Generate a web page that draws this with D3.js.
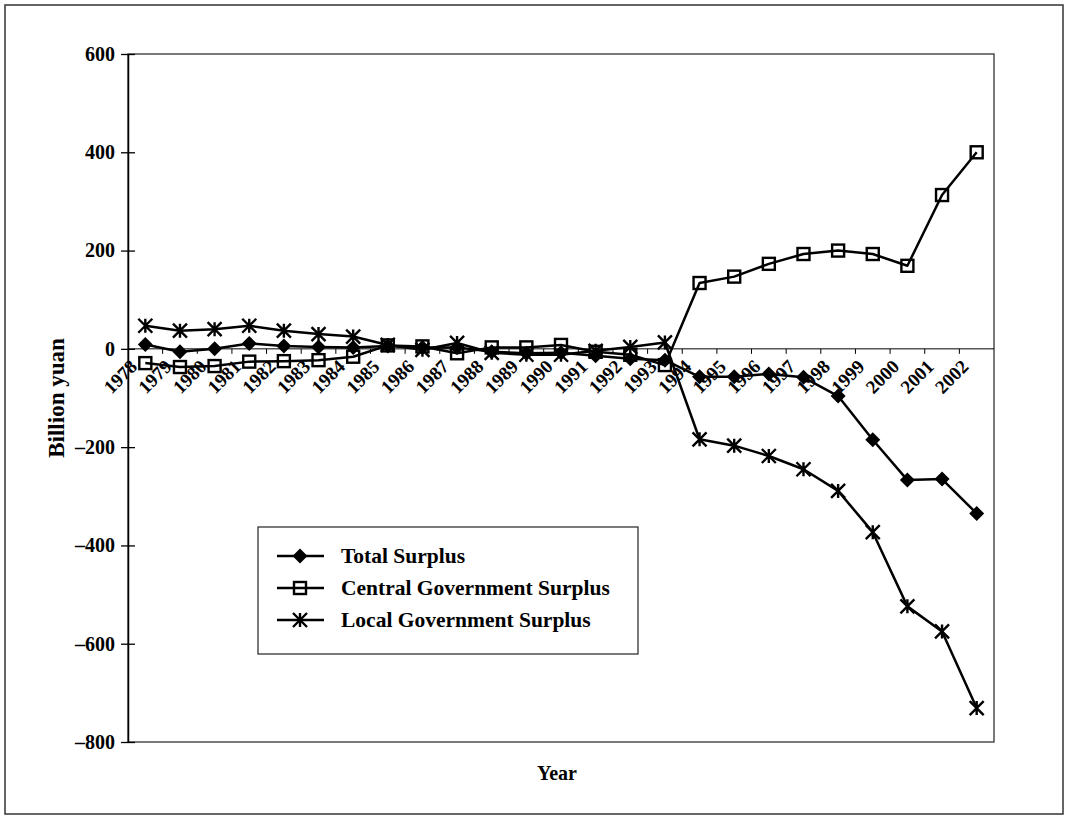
<!DOCTYPE html>
<html>
<head>
<meta charset="utf-8">
<script src="https://cdn.jsdelivr.net/npm/d3@7"></script>
<style>
  html, body { margin: 0; padding: 0; background: #fff; }
  svg { display: block; }
  text { font-family: "Liberation Serif", "Times New Roman", serif; font-weight: bold; fill: #000; }
</style>
</head>
<body>
<svg id="chart" width="1069" height="819"></svg>
<script>
const years = ["1978","1979","1980","1981","1982","1983","1984","1985","1986","1987","1988","1989","1990",
  "1991","1992","1993","1994","1995","1996","1997","1998","1999","2000","2001","2002"];
const totalSurplus   = [9, -6, 0, 11, 6, 4, 3, 6, 3, 3, -6, -9, -8, -14, -20, -23, -57, -57, -51, -58, -96, -185, -267, -265, -335];
const centralSurplus = [-29, -37, -35, -26, -25, -23, -16, 7, 5, -9, 3, 3, 8, -6, -12, -33, 134, 147, 173, 193, 200, 193, 169, 313, 400];
const localSurplus   = [47, 37, 40, 47, 37, 30, 25, 8, -2, 12, -8, -12, -12, -4, 4, 13, -184, -197, -218, -245, -289, -373, -524, -575, -731];
const yTicks = [600, 400, 200, 0, -200, -400, -600, -800];
const seriesNames = ["Total Surplus", "Central Government Surplus", "Local Government Surplus"];

const svg = d3.select("#chart");
const L = 128, R = 994, T = 54, B = 742;

// outer frame
svg.append("rect").attr("x", 5).attr("y", 5).attr("width", 1058).attr("height", 809)
  .attr("fill", "none").attr("stroke", "#333").attr("stroke-width", 1.5);

const x = d3.scaleBand().domain(years).range([L, R]).padding(0);
const y = d3.scaleLinear().domain([-800, 600]).range([B, T]);
const cx = d => x(d) + x.bandwidth() / 2;

// plot border
svg.append("rect").attr("x", L).attr("y", T).attr("width", R - L).attr("height", B - T)
  .attr("fill", "none").attr("stroke", "#333").attr("stroke-width", 1.3);

// y axis
const yAxis = d3.axisLeft(y).tickValues(yTicks).tickSizeInner(7).tickSizeOuter(0)
  .tickFormat(d => d < 0 ? "\u2013" + Math.abs(d) : d);
const gy = svg.append("g").attr("transform", `translate(${L},0)`).call(yAxis);
gy.select(".domain").attr("stroke", "#000").attr("stroke-width", 1.5);
gy.selectAll(".tick line").attr("stroke", "#000").attr("stroke-width", 1.3).attr("x2", 7).attr("x1", -7);
gy.selectAll(".tick text").attr("x", -13).style("font-size", "20px")
  .style("font-family", "'Liberation Serif', serif").style("font-weight", "bold");

// x axis at zero
const y0 = y(0);
const gx = svg.append("g").attr("transform", `translate(0,${y0})`);
gx.append("line").attr("x1", L).attr("x2", R).attr("y1", 0).attr("y2", 0).attr("stroke", "#000").attr("stroke-width", 1);
gx.selectAll("line.tk").data(years.slice(1)).join("line").attr("class", "tk")
  .attr("x1", d => x(d)).attr("x2", d => x(d)).attr("y1", 0).attr("y2", 5)
  .attr("stroke", "#000").attr("stroke-width", 1);
gx.selectAll("text.lbl").data(years).join("text").attr("class", "lbl")
  .attr("transform", d => `translate(${cx(d) - 7},19) rotate(-45)`)
  .attr("text-anchor", "end").style("font-size", "19px").text(d => d);

// lines
const line = d3.line().x((d, i) => cx(years[i])).y(d => y(d));
const allSeries = [totalSurplus, centralSurplus, localSurplus];
allSeries.forEach(s => {
  svg.append("path").datum(s).attr("d", line).attr("fill", "none")
    .attr("stroke", "#000").attr("stroke-width", 2.5).attr("stroke-linejoin", "round");
});

function drawMarker(g, kind, px, py) {
  if (kind === 0) {
    const r = 7.5;
    g.append("path").attr("d", `M${px},${py - r}L${px + r},${py}L${px},${py + r}L${px - r},${py}Z`).attr("fill", "#000");
  } else if (kind === 1) {
    const s = 12;
    g.append("rect").attr("x", px - s / 2).attr("y", py - s / 2).attr("width", s).attr("height", s)
      .attr("fill", "none").attr("stroke", "#000").attr("stroke-width", 2.4);
  } else {
    const r = 7;
    g.append("path").attr("d", `M${px - r},${py - r}L${px + r},${py + r}M${px - r},${py + r}L${px + r},${py - r}M${px},${py - r}L${px},${py + r}`)
      .attr("stroke", "#000").attr("stroke-width", 2.4).attr("fill", "none");
  }
}
const mg = svg.append("g");
allSeries.forEach((s, k) => s.forEach((v, i) => drawMarker(mg, k, cx(years[i]), y(v))));

// axis titles
svg.append("text").attr("transform", `translate(64,${(T + B) / 2}) rotate(-90)`)
  .attr("text-anchor", "middle").style("font-size", "23px").text("Billion yuan");
svg.append("text").attr("x", 557).attr("y", 780).attr("text-anchor", "middle")
  .style("font-size", "20px").text("Year");

// legend
const lg = svg.append("g");
lg.append("rect").attr("x", 258).attr("y", 527).attr("width", 380).attr("height", 127)
  .attr("fill", "#fff").attr("stroke", "#333").attr("stroke-width", 1.3);
seriesNames.forEach((n, k) => {
  const ly = 556 + k * 32;
  lg.append("line").attr("x1", 277).attr("x2", 324).attr("y1", ly).attr("y2", ly)
    .attr("stroke", "#000").attr("stroke-width", 2.5);
  drawMarker(lg, k, 300, ly);
  lg.append("text").attr("x", 341).attr("y", ly + 7).style("font-size", "21.5px").text(n);
});
</script>
</body>
</html>
